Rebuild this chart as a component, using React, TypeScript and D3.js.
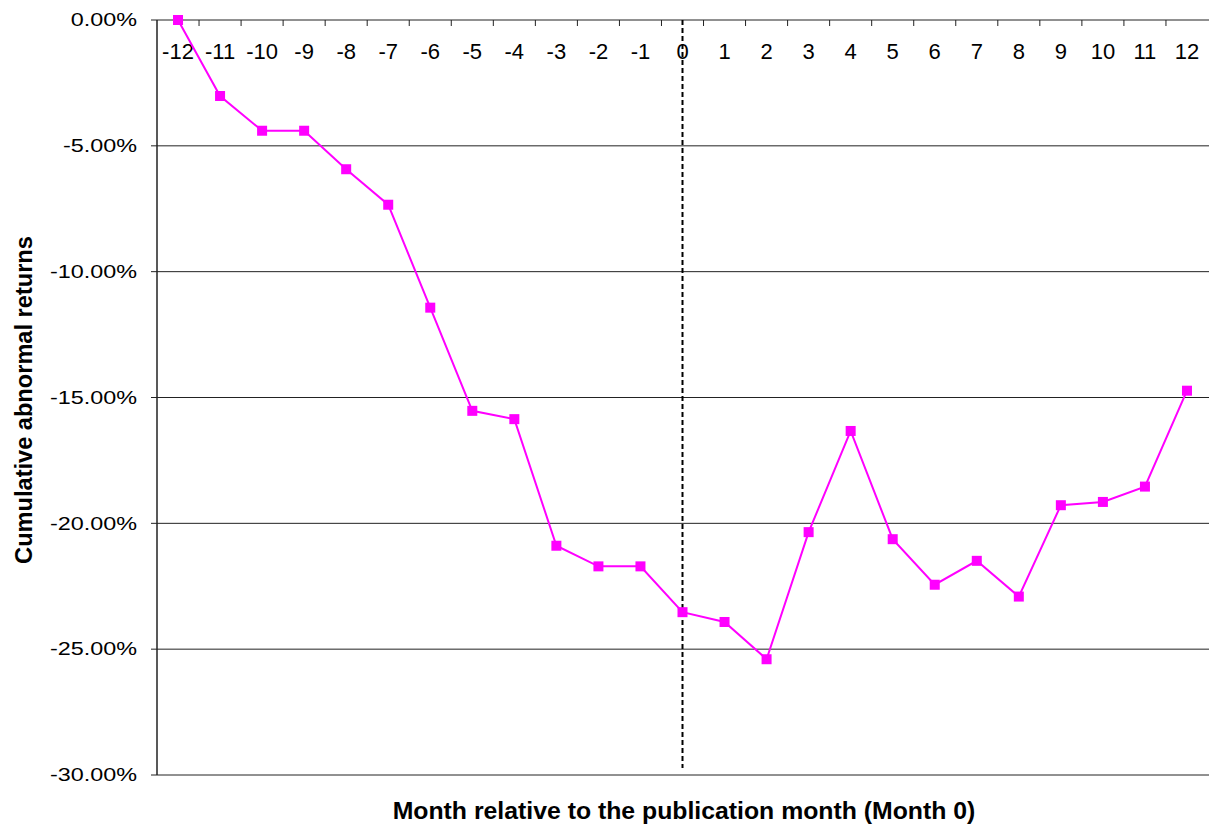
import React from "react";
import * as d3 from "d3";

const months: number[] = [-12, -11, -10, -9, -8, -7, -6, -5, -4, -3, -2, -1, 0, 1, 2, 3, 4, 5, 6, 7, 8, 9, 10, 11, 12];
const car: number[] = [
  0.0, -3.02, -4.4, -4.4, -5.93, -7.34, -11.43, -15.53, -15.86, -20.89, -21.71, -21.71,
  -23.53, -23.92, -25.4, -20.35, -16.33, -20.63, -22.44, -21.49, -22.91, -19.28, -19.15, -18.54, -14.73,
];
const yTicks: number[] = [0, -5, -10, -15, -20, -25, -30];
const yTitle = "Cumulative abnormal returns";
const xTitle = "Month relative to the publication month (Month 0)";

const W = 1209;
const H = 826;
const left = 157;
const right = 1208;
const top = 20;
const bottom = 775;
const font = "'Liberation Sans', Arial, Helvetica, sans-serif";

const locale = d3.formatLocale({
  decimal: ".",
  thousands: ",",
  grouping: [3],
  currency: ["", ""],
  minus: "-",
});
const fmt = locale.format(".2f");

export default function App() {
  const x = d3
    .scaleBand<number>()
    .domain(months)
    .range([left, right]);
  const cx = (m: number) => (x(m) as number) + x.bandwidth() / 2;
  const y = d3.scaleLinear().domain([-30, 0]).range([bottom, top]);
  const line = d3
    .line<number>()
    .x((_, i) => cx(months[i]))
    .y((d) => y(d));
  const boundaries = months.slice(1).map((m) => x(m) as number);
  const ms = 10;

  return (
    <svg
      width={W}
      height={H}
      style={{ position: "absolute", left: 0, top: 0, background: "#fff" }}
      fontFamily={font}
    >
      {/* gridlines */}
      {yTicks.map((t) => (
        <g key={t}>
          <line x1={left - 6} x2={W} y1={y(t)} y2={y(t)} stroke="#222" strokeWidth={1} />
          <text
            transform={`translate(137,${y(t)}) scale(1.3,1)`}
            dy="0.35em"
            textAnchor="end"
            fontSize={18}
            fill="#000"
          >
            {fmt(t) + "%"}
          </text>
        </g>
      ))}
      {/* y axis */}
      <line x1={left} x2={left} y1={top} y2={bottom} stroke="#222" strokeWidth={1.5} />
      {/* x axis ticks at top (zero line) */}
      {boundaries.map((b, i) => (
        <line key={i} x1={b} x2={b} y1={top} y2={top + 6} stroke="#222" strokeWidth={1} />
      ))}
      {months.map((m) => (
        <text key={m} x={cx(m)} y={58.5} textAnchor="middle" fontSize={22} fill="#000">
          {String(m)}
        </text>
      ))}
      {/* month 0 dashed line */}
      <line
        x1={cx(0)}
        x2={cx(0)}
        y1={top}
        y2={768}
        stroke="#000"
        strokeWidth={2}
        strokeDasharray="5,3"
      />
      {/* series */}
      <path d={line(car) || ""} fill="none" stroke="#ff00ff" strokeWidth={2} />
      {car.map((v, i) => (
        <rect
          key={i}
          x={cx(months[i]) - ms / 2}
          y={y(v) - ms / 2}
          width={ms}
          height={ms}
          fill="#ff00ff"
        />
      ))}
      {/* titles */}
      <text
        transform={`translate(32,400) rotate(-90)`}
        textAnchor="middle"
        fontSize={23.6}
        fontWeight="bold"
        fill="#000"
      >
        {yTitle}
      </text>
      <text x={684} y={819} textAnchor="middle" fontSize={24.8} fontWeight="bold" fill="#000">
        {xTitle}
      </text>
    </svg>
  );
}
